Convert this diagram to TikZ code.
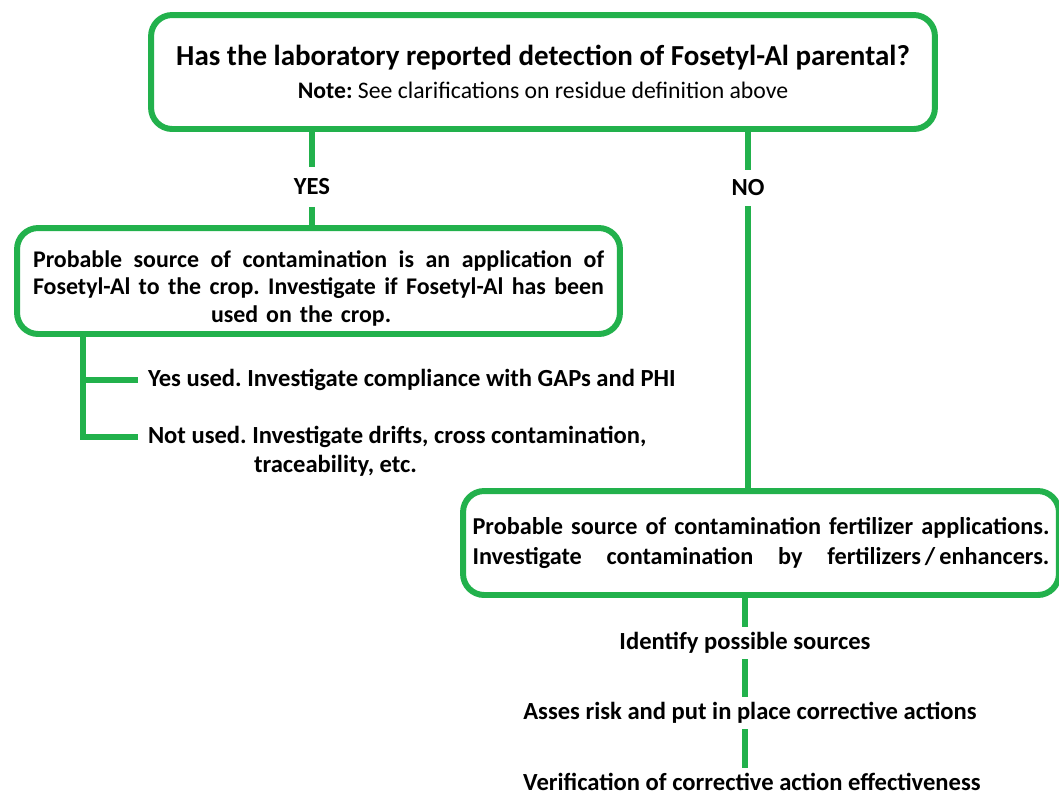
\documentclass[tikz,border=0pt]{standalone}
\usepackage{fontspec}
\setmainfont{Carlito}
\usetikzlibrary{positioning,calc}
\definecolor{leaf}{RGB}{34,177,76}
\newcommand{\spreadline}[2]{\leavevmode\hbox to #1{\spaceskip=0.25em plus 1fil\relax #2}}

\begin{document}
\begin{tikzpicture}[x=0.02cm,y=-0.02cm,line width=3.4pt,
      box/.style={rectangle, draw=leaf, rounded corners=12pt, inner sep=0pt},
      link/.style={draw=leaf},
      lbl/.style={font=\bfseries\fontsize{14}{16}\selectfont, inner xsep=4pt, inner ysep=1.5pt}]
    \useasboundingbox (0,0) rectangle (1059,796);
    \frenchspacing

    % question
    \node[box, minimum width=15.68cm, minimum height=2.28cm, align=center] (query) at (543,72)
      {{\bfseries\fontsize{16.5}{19}\selectfont Has the laboratory reported detection of Fosetyl-Al parental?}\\[6.6pt]
       {\fontsize{13.5}{15}\selectfont\textbf{Note:} See clarifications on residue definition above}};

    % yes branch
    \node[box, minimum width=12.06cm, minimum height=2.12cm, text width=11.42cm, align=left,
      font=\bfseries\fontsize{13.6}{15.9}\selectfont] (crop) at (318.5,281)
      {\rule{0pt}{18pt}\spreadline{11.42cm}{Probable source of contamination is an application of}\\
       \spreadline{11.42cm}{Fosetyl-Al to the crop. Investigate if Fosetyl-Al has been}\\
       \hspace*{3.56cm}used on the crop.};
    \node[lbl, anchor=west] (used) at (138,380) {Yes used. Investigate compliance with GAPs and PHI};
    \node[lbl, anchor=west] (notused) at (138,437) {Not used. Investigate drifts, cross contamination,};
    \node[lbl, anchor=west] (trace) at (244,466) {traceability, etc.};

    % no branch
    \node[box, minimum width=11.92cm, minimum height=2.08cm, text width=11.54cm, align=left,
      font=\bfseries\fontsize{13.8}{17.6}\selectfont] (fert) at (761,543)
      {\spreadline{11.54cm}{Probable source of contamination fertilizer applications.}\\
       \spreadline{11.54cm}{Investigate contamination by fertilizers\,/\,enhancers.}};
    \node[lbl] (identify) at (745,643) {Identify possible sources};
    \node[lbl] (assess) at (750,713) {Asses risk and put in place corrective actions};
    \node[lbl] (verify) at (752,782) {Verification of corrective action effectiveness};

    % answers
    \node[lbl, inner ysep=5pt] (yes) at (312,187) {YES};
    \node[lbl, inner ysep=4pt] (no) at (748,188) {NO};

    \draw[link] (yes |- query.south) -- (yes.north);
    \draw[link] (yes.south) -- (yes |- crop.north);
    \draw[link] (no |- query.south) -- (no.north);
    \draw[link] (no.south) -- (no |- fert.north);

    \coordinate (fork) at (83,0);
    \draw[link] (crop.south -| fork) |- (used.west);
    \draw[link] (crop.south -| fork) |- (notused.west);

    \draw[link] (745,0 |- fert.south) -- (745,0 |- identify.north);
    \draw[link] (745,0 |- identify.south) -- (745,0 |- assess.north);
    \draw[link] (745,0 |- assess.south) -- (745,0 |- verify.north);
\end{tikzpicture}
\end{document}
